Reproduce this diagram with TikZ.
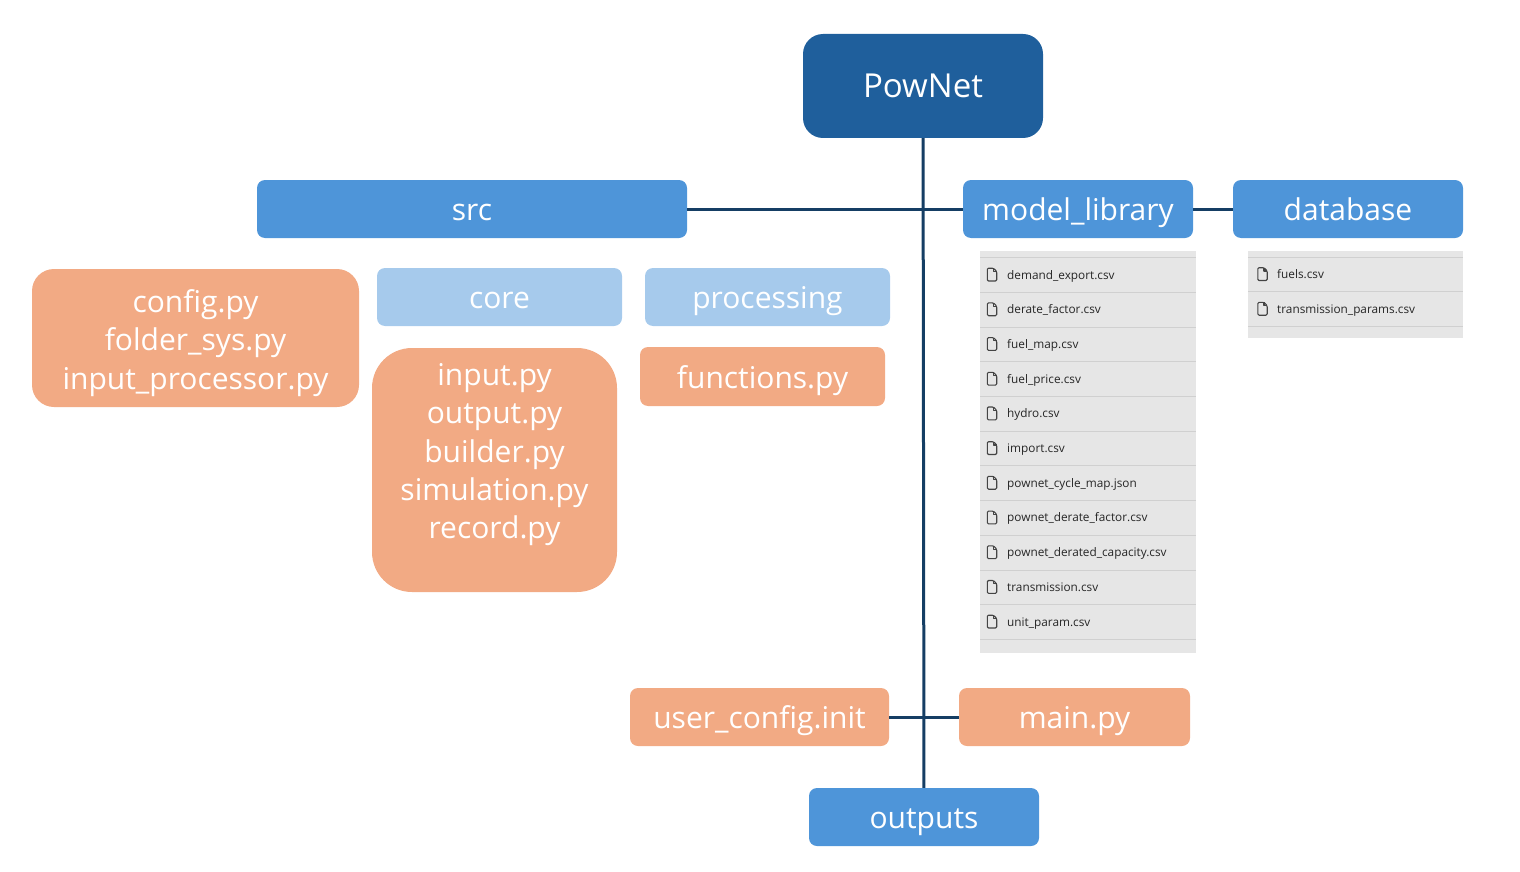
\documentclass[tikz,border=0pt]{standalone}
\usepackage{fontspec}
\setmainfont{Open Sans}
\definecolor{rootblue}{HTML}{1F5F9C}
\definecolor{dirblue}{HTML}{4E95D9}
\definecolor{subblue}{HTML}{A6CAEC}
\definecolor{fileorange}{HTML}{F2AA84}
\definecolor{linkblue}{HTML}{153E64}
\definecolor{panelgray}{HTML}{E6E6E6}
\definecolor{rulegray}{HTML}{D0D0D0}
\definecolor{icongray}{HTML}{444444}
\tikzset{
  box/.style={rounded corners=8pt, inner sep=0pt, text=white, align=center,
    font=\fontsize{30}{38.2}\selectfont,
    execute at begin node={\rule{0pt}{34.7pt}}, execute at end node=\strut},
  dirbox/.style={box, fill=dirblue},
  subbox/.style={box, fill=subblue},
  filebox/.style={box, fill=fileorange},
  link/.style={draw=linkblue, line width=3pt},
  csvname/.style={anchor=base west, inner sep=0pt, text=black!85, font=\fontsize{11.8}{14}\selectfont},
  csvicon/.style={draw=icongray, line width=1.1pt, line join=round}
}
\newcommand{\fileicon}[2]{%
  \draw[csvicon, rounded corners=1.2pt] (#1-4.7,#2-6.3) -- (#1+1.5,#2-6.3) -- (#1+4.7,#2-3) -- (#1+4.7,#2+6.5) -- (#1-4.7,#2+6.5) -- cycle;
  \draw[csvicon] (#1+1.5,#2-6.3) -- (#1+1.5,#2-3) -- (#1+4.7,#2-3);
}
\begin{document}
\begin{tikzpicture}[x=1pt,y=-1pt]
  \useasboundingbox (0,0) rectangle (1520,872);

  % Listados de archivos
  \fill[panelgray] (980,251) rectangle (1196,653);
  \fill[panelgray] (1248,251) rectangle (1463,338);
  \foreach \y in {257,292,327,361,396,431,465,500,535,570,604,639}
    \draw[rulegray, line width=1pt] (980,\y) -- (1196,\y);
  \foreach \y in {257,291,326}
    \draw[rulegray, line width=1pt] (1248,\y) -- (1463,\y);

  \foreach \name [count=\i from 0] in {demand\_export.csv,derate\_factor.csv,fuel\_map.csv,fuel\_price.csv,hydro.csv,import.csv,pownet\_cycle\_map.json,pownet\_derate\_factor.csv,pownet\_derated\_capacity.csv,transmission.csv,unit\_param.csv} {
    \pgfmathsetmacro{\rowy}{274.5+34.7*\i}
    \fileicon{992}{\rowy}
    \node[csvname] (lib\i) at (1007,\rowy+4.5) {\name};
  }
  \foreach \name [count=\i from 0] in {fuels.csv,transmission\_params.csv} {
    \pgfmathsetmacro{\rowy}{274+34.7*\i}
    \fileicon{1262.5}{\rowy}
    \node[csvname] (db\i) at (1277,\rowy+4.5) {\name};
  }

  % Cajas
  \node[box, fill=rootblue, rounded corners=20pt, minimum width=240pt, minimum height=104pt,
    font=\fontsize{33}{40}\selectfont] (pownet) at (923,86) {PowNet};
  \node[dirbox, minimum width=430pt, minimum height=58pt] (src) at (472,209) {src};
  \node[dirbox, minimum width=230pt, minimum height=58pt] (modellib) at (1078,209) {model\_library};
  \node[dirbox, minimum width=230pt, minimum height=58pt] (database) at (1348,209) {database};
  \node[dirbox, minimum width=230pt, minimum height=58pt] (outputs) at (924,817) {outputs};

  \node[subbox, minimum width=245pt, minimum height=58pt] (core) at (499.5,297) {core};
  \node[subbox, minimum width=245pt, minimum height=58pt] (processing) at (767.5,297) {processing};

  \node[filebox, rounded corners=22pt, minimum width=327pt, minimum height=138pt] (config) at (195.5,338)
    {\rule{0pt}{37.2pt}config.py\\folder\_sys.py\\input\_processor.py};
  \node[filebox, rounded corners=40pt, minimum width=245pt, minimum height=244pt] (corefiles) at (494.5,470)
    {input.py\\output.py\\builder.py\\simulation.py\\record.py\\[-12pt]};
  \node[filebox, minimum width=245pt, minimum height=59pt] (functions) at (762.5,376.5) {functions.py};
  \node[filebox, minimum width=259pt, minimum height=58pt] (userconfig) at (759.5,717) {user\_config.init};
  \node[filebox, minimum width=231pt, minimum height=58pt] (mainpy) at (1074.5,717) {main.py};

  % Conectores
  \draw[link] (pownet) -- (outputs);
  \draw[link] (src) -- (modellib);
  \draw[link] (modellib) -- (database);
  \draw[link] (userconfig) -- (mainpy);
\end{tikzpicture}
\end{document}
